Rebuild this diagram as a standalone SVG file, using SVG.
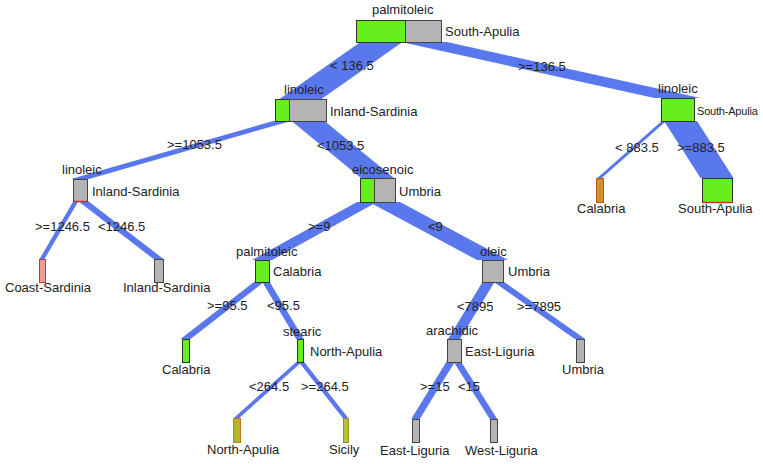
<svg xmlns="http://www.w3.org/2000/svg" width="763" height="464" viewBox="0 0 763 464">
<style>
text{font-family:"Liberation Sans",Arial,sans-serif;font-size:13px;fill:#222}
.band{fill:#5a78ee}
.gr{fill:#66ee1e;stroke:#333;stroke-width:1}
.gy{fill:#b4b4b4;stroke:#444;stroke-width:1}
.red{stroke:#c83030;stroke-width:1.5}
</style>
<rect width="763" height="464" fill="#fff"/>
<g id="connectors">
<polygon class="band" points="360.5,42 402.5,42 321.5,99 279.5,99"/>
<polygon class="band" points="401,42 447,42 700.5,98 654.5,98"/>
<polygon class="band" points="273,121 291,121 89,179 71,179"/>
<polygon class="band" points="291.5,121 324.5,121 394,178 361,178"/>
<polygon class="band" points="73.5,201 78.5,201 44.5,259 39.5,259"/>
<polygon class="band" points="78,201 88,201 163.5,259 153.5,259"/>
<polygon class="band" points="357,202 377,202 272,260 252,260"/>
<polygon class="band" points="369,202 400,202 508,260 477,260"/>
<polygon class="band" points="254,282 264,282 190.5,339 180.5,339"/>
<polygon class="band" points="262.25,282 269.75,282 303.75,339 296.25,339"/>
<polygon class="band" points="296.25,362 301.75,362 239.25,418 233.75,418"/>
<polygon class="band" points="298.75,362 304.25,362 348.25,418 342.75,418"/>
<polygon class="band" points="482.5,282 494.5,282 460,339 448,339"/>
<polygon class="band" points="493.75,282 504.25,282 585.25,339 574.75,339"/>
<polygon class="band" points="446.25,362 454.75,362 419.75,419 411.25,419"/>
<polygon class="band" points="453.75,362 461.25,362 497.25,419 489.75,419"/>
<polygon class="band" points="661.75,121 666.25,121 601.75,178 597.25,178"/>
<polygon class="band" points="664,121 697,121 733.5,178 700.5,178"/>
<g id="edge-labels">
<text x="330" y="70">&lt; 136.5</text>
<text x="518" y="71">&gt;=136.5</text>
<text x="167" y="149">&gt;=1053.5</text>
<text x="317" y="150">&lt;1053.5</text>
<text x="615" y="152">&lt; 883.5</text>
<text x="677" y="152">&gt;=883.5</text>
<text x="35" y="231">&gt;=1246.5</text>
<text x="98" y="231">&lt;1246.5</text>
<text x="308" y="231">&gt;=9</text>
<text x="428" y="231">&lt;9</text>
<text x="207" y="310">&gt;=95.5</text>
<text x="267" y="310">&lt;95.5</text>
<text x="457" y="311">&lt;7895</text>
<text x="517" y="311">&gt;=7895</text>
<text x="249" y="391">&lt;264.5</text>
<text x="301" y="391">&gt;=264.5</text>
<text x="420" y="391">&gt;=15</text>
<text x="458" y="391">&lt;15</text>
</g>
</g>
<g id="n-root">
<rect class="gr" x="356.5" y="20.5" width="49" height="22"/>
<rect class="gy" x="405.5" y="20.5" width="36" height="22"/>
<text x="372" y="14">palmitoleic</text>
<text x="445" y="36">South-Apulia</text>
</g>
<g id="n-linoleic-left">
<rect class="gr" x="275.5" y="99.5" width="14" height="22"/>
<rect class="gy" x="289.5" y="99.5" width="37" height="22"/>
<text x="284" y="94">linoleic</text>
<text x="330" y="116">Inland-Sardinia</text>
</g>
<g id="n-linoleic-right">
<rect class="gr" x="661.5" y="98.5" width="33" height="23"/>
<text x="658" y="93">linoleic</text>
<text x="697" y="115" style="font-size:11px;letter-spacing:-0.2px">South-Apulia</text>
</g>
<g id="n-linoleic-far">
<rect class="gy" x="73.5" y="179.5" width="14" height="22"/>
<line class="red" x1="73.5" y1="201.5" x2="87.5" y2="201.5"/>
<text x="62" y="174">linoleic</text>
<text x="92" y="196">Inland-Sardinia</text>
</g>
<g id="n-eicosenoic">
<rect class="gr" x="360.5" y="178.5" width="14" height="24"/>
<rect class="gy" x="374.5" y="178.5" width="21" height="24"/>
<text x="352" y="174">eicosenoic</text>
<text x="399" y="196">Umbria</text>
</g>
<g id="n-palmitoleic-2">
<rect class="gr" x="255.5" y="260.5" width="14" height="22"/>
<text x="236" y="256">palmitoleic</text>
<text x="273" y="276">Calabria</text>
</g>
<g id="n-oleic">
<rect class="gy" x="482.5" y="260.5" width="21" height="22"/>
<text x="480" y="256">oleic</text>
<text x="508" y="276">Umbria</text>
</g>
<g id="n-stearic">
<rect class="gr" x="297.5" y="339.5" width="6" height="23"/>
<text x="283" y="336">stearic</text>
<text x="310" y="356">North-Apulia</text>
</g>
<g id="n-arachidic">
<rect class="gy" x="447.5" y="339.5" width="14" height="23"/>
<text x="426" y="335">arachidic</text>
<text x="465" y="356">East-Liguria</text>
</g>
<g id="leaf-coast-sardinia">
<rect x="39.5" y="259.5" width="6" height="23" fill="#e99c9c" stroke="#cc3333"/>
<text x="5" y="292">Coast-Sardinia</text>
</g>
<g id="leaf-inland-sardinia">
<rect class="gy" x="154.5" y="259.5" width="9" height="23"/>
<text x="123" y="292">Inland-Sardinia</text>
</g>
<g id="leaf-calabria-1">
<rect class="gr" x="182.5" y="339.5" width="7" height="23"/>
<text x="162" y="374">Calabria</text>
</g>
<g id="leaf-umbria">
<rect class="gy" x="576.5" y="339.5" width="8" height="23"/>
<text x="562" y="374">Umbria</text>
</g>
<g id="leaf-north-apulia">
<rect x="233.5" y="418.5" width="7" height="24" fill="#b6b22c" stroke="#c07a20"/>
<text x="207" y="454">North-Apulia</text>
</g>
<g id="leaf-sicily">
<rect x="343.5" y="418.5" width="5" height="24" fill="#b8c232" stroke="#9a8a20"/>
<text x="329" y="454">Sicily</text>
</g>
<g id="leaf-east-liguria">
<rect class="gy" x="412.5" y="419.5" width="7" height="23"/>
<text x="380" y="455">East-Liguria</text>
</g>
<g id="leaf-west-liguria">
<rect class="gy" x="490.5" y="419.5" width="7" height="23"/>
<text x="465" y="455">West-Liguria</text>
</g>
<g id="leaf-calabria-2">
<rect x="596.5" y="178.5" width="7" height="24" fill="#c9962c" stroke="#c85020"/>
<text x="577" y="213">Calabria</text>
</g>
<g id="leaf-south-apulia">
<rect class="gr" x="702.5" y="178.5" width="30" height="24"/>
<line class="red" x1="702.5" y1="202.5" x2="732.5" y2="202.5"/>
<text x="678" y="213">South-Apulia</text>
</g>
</svg>
